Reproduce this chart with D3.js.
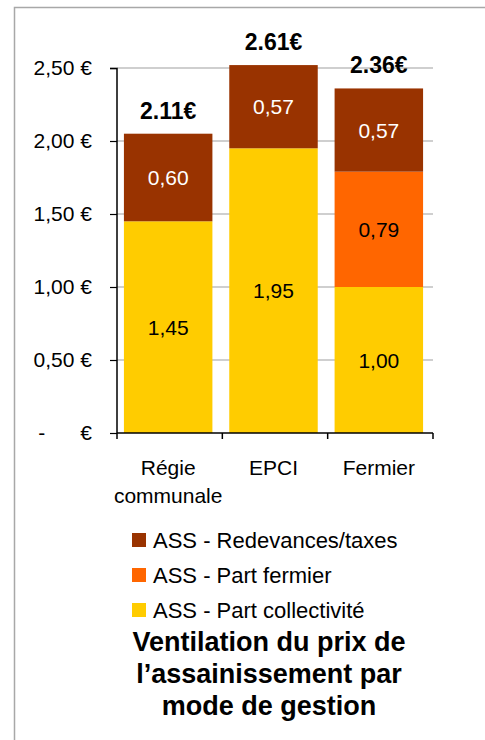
<!DOCTYPE html>
<html>
<head>
<meta charset="utf-8">
<script src="https://cdn.jsdelivr.net/npm/d3@7"></script>
<style>
  body { margin: 0; background: #fff; }
  text { font-family: "Liberation Sans", Arial, sans-serif; }
</style>
</head>
<body>
<div id="container"></div>
<script>
/* CONSTANTS AND GLOBALS */
const width = 485;
const height = 740;

/* DATA */
const categories = ["Régie communale", "EPCI", "Fermier"];
const partCollectivite = [1.45, 1.95, 1.00];
const partFermier = [0, 0, 0.79];
const redevances = [0.60, 0.57, 0.57];
const totalLabels = ["2.11€", "2.61€", "2.36€"];
const yTicks = [0, 0.5, 1, 1.5, 2, 2.5];
const seriesNames = ["ASS - Part collectivité", "ASS - Part fermier", "ASS - Redevances/taxes"];
const colors = ["#FFCC00", "#FF6600", "#993300"];
const labelColors = ["#000", "#000", "#fff"];

// table for d3.stack
const table = categories.map((c, i) => ({
  cat: c,
  s0: partCollectivite[i],
  s1: partFermier[i],
  s2: redevances[i]
}));
const keys = ["s0", "s1", "s2"];

const svg = d3.select("#container")
  .append("svg")
  .attr("width", width)
  .attr("height", height);

// frame (top + left lines)
svg.append("path")
  .attr("d", "M14.5,740 V7.5 H485")
  .attr("fill", "none")
  .attr("stroke", "#a8a8a8")
  .attr("stroke-width", 1.5);

/* SCALES */
const xScale = d3.scaleBand()
  .domain(categories)
  .range([117, 433])
  .padding(0);

const yScale = d3.scaleLinear()
  .domain([0, 2.5])
  .range([433, 68]);

const barW = xScale.bandwidth() * 0.84;
const barX = d => xScale(d) + (xScale.bandwidth() - barW) / 2 - 1.5;

// gridlines
svg.append("g")
  .selectAll("line")
  .data(yTicks.filter(d => d > 0))
  .join("line")
  .attr("x1", 117)
  .attr("x2", 433)
  .attr("y1", d => yScale(d))
  .attr("y2", d => yScale(d))
  .attr("stroke", "#a0a0a0")
  .attr("stroke-width", 1.2);

/* BARS */
const stacked = d3.stack().keys(keys)(table);

stacked.forEach((layer, li) => {
  const g = svg.append("g");
  g.selectAll("rect")
    .data(layer.filter(d => d[1] - d[0] > 0))
    .join("rect")
    .attr("x", d => barX(d.data.cat))
    .attr("width", barW)
    .attr("y", d => yScale(d[1]))
    .attr("height", d => yScale(d[0]) - yScale(d[1]))
    .attr("fill", colors[li]);

  g.selectAll("text")
    .data(layer.filter(d => d[1] - d[0] > 0))
    .join("text")
    .attr("x", d => barX(d.data.cat) + barW / 2)
    .attr("y", d => (yScale(d[0]) + yScale(d[1])) / 2)
    .attr("dy", "0.36em")
    .attr("text-anchor", "middle")
    .attr("font-size", 21)
    .attr("fill", labelColors[li])
    .text(d => d3.format(".2f")(d[1] - d[0]).replace(".", ","));
});

// totals
svg.append("g")
  .selectAll("text")
  .data(table)
  .join("text")
  .attr("x", d => barX(d.cat) + barW / 2)
  .attr("y", d => yScale(d.s0 + d.s1 + d.s2) - 15)
  .attr("text-anchor", "middle")
  .attr("font-size", 23)
  .attr("font-weight", "bold")
  .text((d, i) => totalLabels[i]);

/* AXES */
const yAxis = d3.axisLeft(yScale)
  .tickValues(yTicks)
  .tickSize(7)
  .tickPadding(18)
  .tickFormat(d => d === 0 ? "-      €" : d3.format(".2f")(d).replace(".", ",") + " €");

const gy = svg.append("g")
  .attr("transform", "translate(117,0)")
  .call(yAxis);
gy.select(".domain").attr("stroke", "#000").attr("stroke-width", 1.5).attr("d", "M-7,68.5H0V433");
gy.selectAll(".tick line").attr("stroke", "#000").attr("stroke-width", 1.2);
gy.selectAll(".tick text")
  .attr("font-size", 21)
  .attr("font-family", "Liberation Sans, Arial, sans-serif")
  .attr("fill", "#000")
  .attr("x", -25)
  .style("white-space", "pre");

const xAxis = d3.axisBottom(xScale)
  .tickSize(0)
  .tickPadding(0)
  .tickFormat("");

const gx = svg.append("g")
  .attr("transform", "translate(0,433)")
  .call(xAxis);
gx.select(".domain").attr("stroke", "#000").attr("stroke-width", 1.5).attr("d", "M117,0H433");

// category boundary ticks
gx.append("g")
  .selectAll("line")
  .data(categories.map(c => xScale(c)).concat([433]))
  .join("line")
  .attr("x1", d => d)
  .attr("x2", d => d)
  .attr("y1", 0)
  .attr("y2", 6)
  .attr("stroke", "#000")
  .attr("stroke-width", 1.5);

// category labels (wrapped)
const catLines = { "Régie communale": ["Régie", "communale"], "EPCI": ["EPCI"], "Fermier": ["Fermier"] };
gx.append("g")
  .selectAll("text")
  .data(categories)
  .join("text")
  .attr("text-anchor", "middle")
  .attr("font-size", 21)
  .attr("fill", "#000")
  .each(function (c) {
    const t = d3.select(this);
    catLines[c].forEach((line, i) => {
      t.append("tspan")
        .attr("x", xScale(c) + xScale.bandwidth() / 2 - 1.5)
        .attr("y", 42 + i * 28)
        .text(line);
    });
  });

/* LEGEND */
const legendOrder = [2, 1, 0];
const legend = svg.append("g").attr("transform", "translate(132,533)");
legendOrder.forEach((si, i) => {
  const row = legend.append("g").attr("transform", `translate(0,${i * 35})`);
  row.append("rect")
    .attr("width", 14)
    .attr("height", 14)
    .attr("fill", colors[si]);
  row.append("text")
    .attr("x", 21)
    .attr("y", 7)
    .attr("dy", "0.36em")
    .attr("font-size", 22)
    .text(seriesNames[si]);
});

/* TITLE */
const titleLines = ["Ventilation du prix de", "l’assainissement par", "mode de gestion"];
svg.append("text")
  .attr("text-anchor", "middle")
  .attr("font-size", 27)
  .attr("font-weight", "bold")
  .selectAll("tspan")
  .data(titleLines)
  .join("tspan")
  .attr("x", 269)
  .attr("y", (d, i) => 651 + i * 32)
  .text(d => d);
</script>
</body>
</html>
